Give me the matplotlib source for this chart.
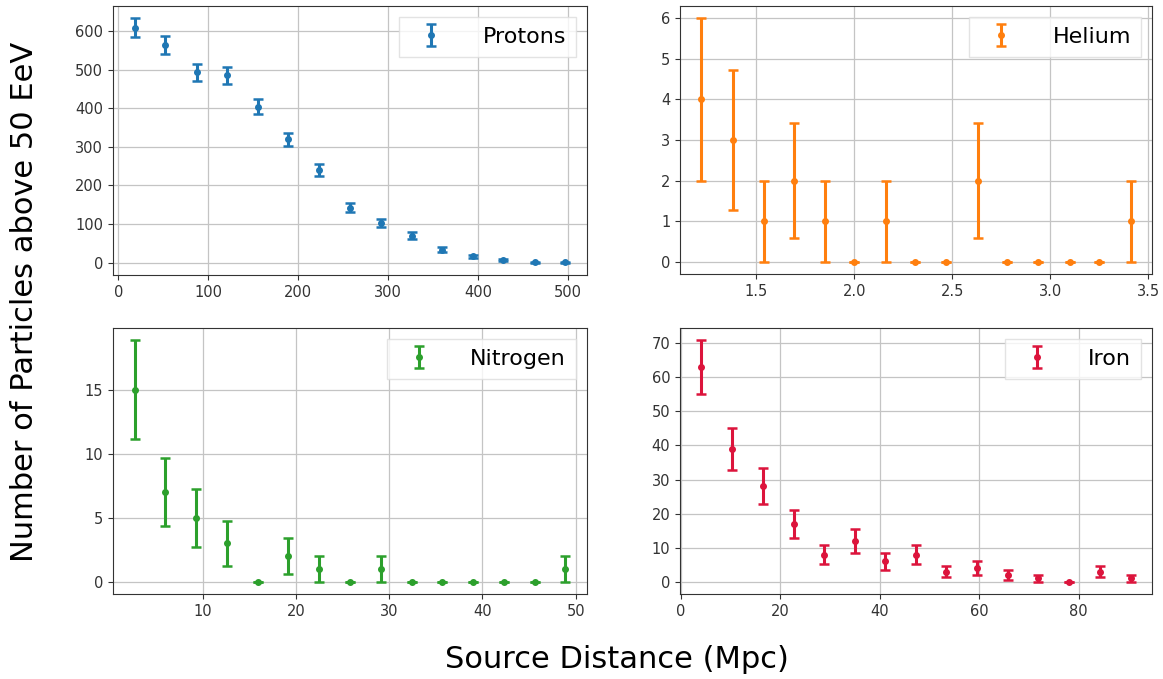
import matplotlib
matplotlib.use("Agg")
import matplotlib.pyplot as plt
from matplotlib.ticker import MultipleLocator

# ---- data ----
proton_x = [18, 52, 87, 121, 155, 189, 223, 257, 292, 326, 360, 394, 428, 463, 497]
proton_y = [608, 563, 493, 485, 404, 319, 239, 142, 103, 70, 34, 17, 8, 1, 1]
proton_err = [24.7, 23.7, 22.2, 22.0, 20.1, 17.9, 15.5, 11.9, 10.1, 8.4, 5.8, 4.1, 2.8, 1, 1]

helium_x = [1.22, 1.38, 1.54, 1.69, 1.85, 2.00, 2.16, 2.31, 2.47, 2.63, 2.78, 2.94, 3.10, 3.25, 3.41]
helium_y = [4, 3, 1, 2, 1, 0, 1, 0, 0, 2, 0, 0, 0, 0, 1]
helium_err = [2.0, 1.73, 1.0, 1.41, 1.0, 0, 1.0, 0, 0, 1.41, 0, 0, 0, 0, 1.0]

nitrogen_x = [2.7, 6.0, 9.3, 12.6, 15.9, 19.2, 22.5, 25.8, 29.1, 32.4, 35.7, 39.0, 42.3, 45.6, 48.9]
nitrogen_y = [15, 7, 5, 3, 0, 2, 1, 0, 1, 0, 0, 0, 0, 0, 1]
nitrogen_err = [3.87, 2.65, 2.24, 1.73, 0, 1.41, 1.0, 0, 1.0, 0, 0, 0, 0, 0, 1.0]

iron_x = [4.2, 10.3, 16.5, 22.7, 28.8, 35.0, 41.1, 47.3, 53.4, 59.6, 65.7, 71.9, 78.0, 84.2, 90.4]
iron_y = [63, 39, 28, 17, 8, 12, 6, 8, 3, 4, 2, 1, 0, 3, 1]
iron_err = [7.9, 6.2, 5.3, 4.1, 2.8, 3.5, 2.4, 2.8, 1.7, 2.0, 1.4, 1.0, 0, 1.7, 1.0]

labels = ["Protons", "Helium", "Nitrogen", "Iron"]
colors = ["#1f77b4", "#ff7f0e", "#2ca02c", "#dc143c"]
ytick_steps = [100, 1, 5, 10]

W, H = 1163, 679
fig = plt.figure(figsize=(W / 100, H / 100), dpi=100)

def box(l, t, r, b):
    return [l / W, 1 - b / H, (r - l) / W, (b - t) / H]

rects = [box(113, 6, 587, 275), box(680, 6, 1152, 274),
         box(113, 328, 587, 594), box(680, 328, 1152, 594)]
series = [(proton_x, proton_y, proton_err), (helium_x, helium_y, helium_err),
          (nitrogen_x, nitrogen_y, nitrogen_err), (iron_x, iron_y, iron_err)]

for rect, (x, y, e), lab, c, st in zip(rects, series, labels, colors, ytick_steps):
    ax = fig.add_axes(rect)
    ax.errorbar(x, y, yerr=e, fmt='o', color=c, markersize=4,
                elinewidth=2.2, capsize=3.5, capthick=1.8, label=lab)
    ax.yaxis.set_major_locator(MultipleLocator(st))
    ax.grid(True, color='#c4c4c4', linewidth=0.9)
    ax.set_axisbelow(True)
    ax.tick_params(labelsize=10.5, colors='#333333', labelcolor='#333333')
    for s in ax.spines.values():
        s.set_color('#333333')
    ax.legend(loc='upper right', fontsize=16, handlelength=2.0, handletextpad=1.3,
              borderpad=0.45, borderaxespad=0.5, fancybox=False, framealpha=0.8,
              edgecolor='#dddddd')

fig.text(617 / W, 1 - 660 / H, "Source Distance (Mpc)", ha='center', va='center', fontsize=22)
fig.text(25 / W, 1 - 302 / H, "Number of Particles above 50 EeV", ha='center', va='center',
         rotation=90, fontsize=22)

fig.savefig("out.png", dpi=100)
